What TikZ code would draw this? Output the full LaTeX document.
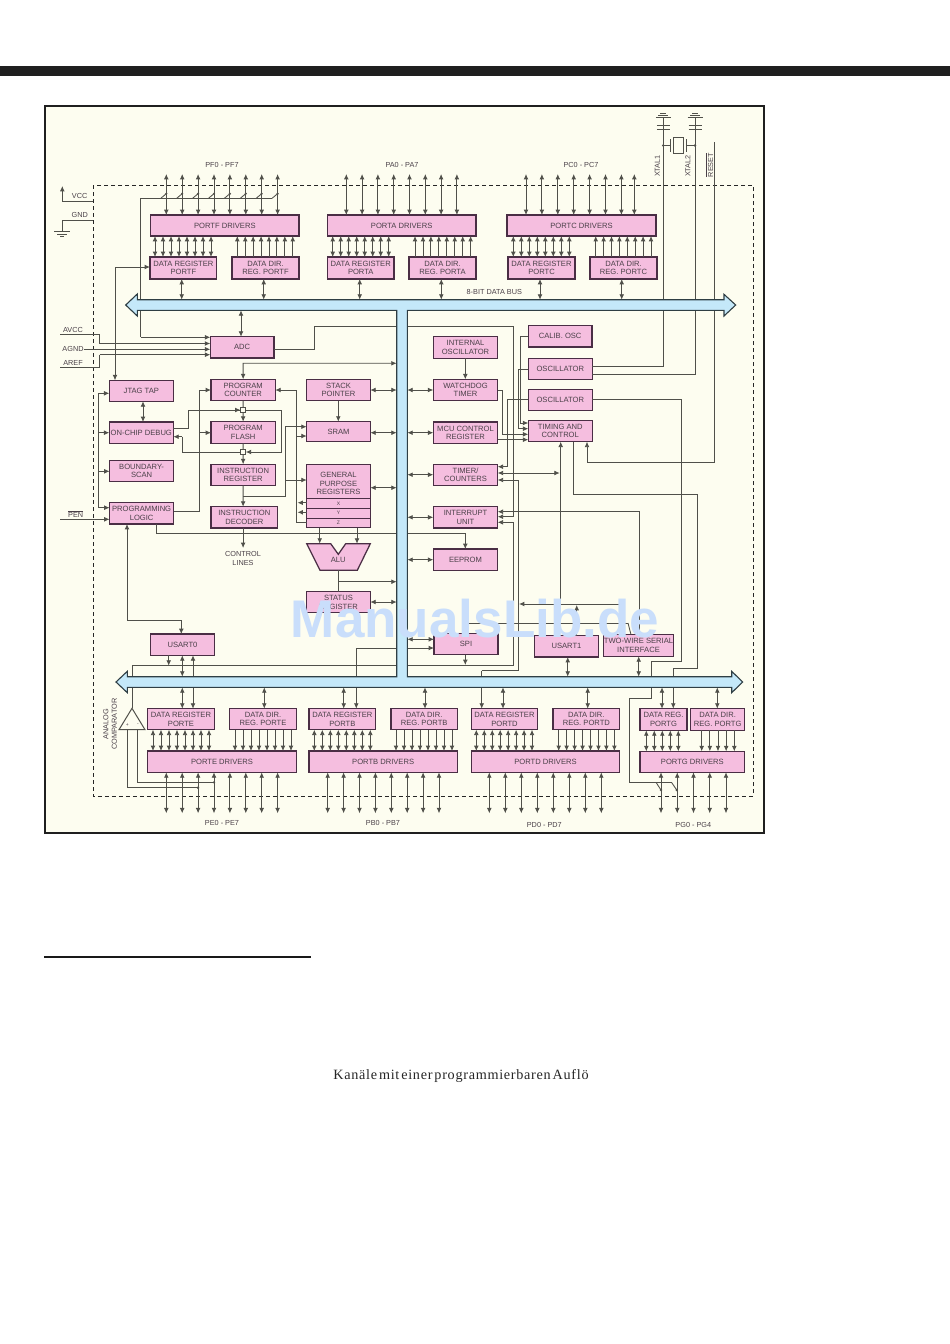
\documentclass[tikz,border=0pt]{standalone}
\usepackage{fontspec}
\setmainfont{Liberation Sans}
\newfontfamily\bodyf[LetterSpace=5,WordSpace=0.45]{Liberation Serif}
\usetikzlibrary{arrows.meta}
\definecolor{paper}{HTML}{FDFDF0}
\definecolor{pinkb}{HTML}{F5BEDF}
\definecolor{edgeb}{HTML}{4A2E45}
\definecolor{wirec}{HTML}{50504A}
\definecolor{txtc}{HTML}{4A4048}
\definecolor{busf}{HTML}{C4E8F9}
\definecolor{busl}{HTML}{2F3E44}
\definecolor{markc}{HTML}{C9DEFB}
\tikzset{
  >={Latex[length=5.4pt,width=4.8pt]},
  wire/.style={draw=wirec,line width=0.85pt},
  ar/.style={wire,->},
  ra/.style={wire,<-},
  bi/.style={wire,<->},
  blk/.style={draw=edgeb,fill=pinkb,line width=1.25pt,inner sep=0pt,outer sep=0pt,align=center,text=txtc,font=\fontsize{7.6}{8.4}\selectfont},
  lab/.style={inner sep=0pt,outer sep=0pt,align=center,text=txtc,font=\fontsize{7.3}{8.5}\selectfont},
  tiny/.style={inner sep=0pt,outer sep=0pt,text=txtc,font=\fontsize{5}{5}\selectfont},
  dot/.style={fill=wirec,draw=none}
}
\newcommand\blkbox[6]{\node[blk,minimum width={(#4-#2)*1pt},minimum height={(#5-#3)*1pt}] (#1) at ({(#2+#4)/2},{(#3+#5)/2}) {#6};}
\newcommand\vwire[4]{\draw[#1] (#2,0 |- #3) -- (#2,0 |- #4);}
\newcommand\hwire[4]{\draw[#1] (#3 |- 0,#2) -- (#4 |- 0,#2);}
\newcommand\pinrow[6]{\foreach \i in {0,...,#4}{\pgfmathsetmacro\xx{#2+#3*\i}\draw[#1] (\xx,0 |- #5) -- (\xx,0 |- #6);}}
\begin{document}
\begin{tikzpicture}[x=1pt,y=-1pt]
\useasboundingbox (0,0) rectangle (950,1344);
\fill[white] (0,0) rectangle (950,1344);
\fill[black!88] (0,66) rectangle (950,76);
\draw[black!88,line width=2pt,fill=paper] (45,106) rectangle (764,832.5);
\draw[black!85,line width=0.6pt,dashed,dash pattern=on 4pt off 3pt] (92.8,185) rectangle (753,796);
% helper levels
\coordinate (tbU) at (0,299.7); \coordinate (tbL) at (0,310.3);
\coordinate (bbU) at (0,676.7); \coordinate (bbL) at (0,687.3);
\coordinate (barL) at (396.7,0); \coordinate (barR) at (407.3,0);
\coordinate (ptop) at (0,174); \coordinate (pbot) at (0,813.3);
% blocks: top ports
\blkbox{pfd}{150.7}{215}{299}{236}{PORTF DRIVERS}
\blkbox{pfr}{150}{257}{216.7}{279}{DATA REGISTER\\PORTF}
\blkbox{pfq}{232}{257}{299}{279}{DATA DIR.\\REG. PORTF}
\blkbox{pad}{327.3}{215}{476}{236}{PORTA DRIVERS}
\blkbox{par}{327.5}{257}{394}{279}{DATA REGISTER\\PORTA}
\blkbox{paq}{409}{257}{476}{279}{DATA DIR.\\REG. PORTA}
\blkbox{pcd}{507}{215}{656}{236}{PORTC DRIVERS}
\blkbox{pcr}{508}{257}{575}{279}{DATA REGISTER\\PORTC}
\blkbox{pcq}{590}{257}{657}{279}{DATA DIR.\\REG. PORTC}
% middle left
\blkbox{adc}{210.3}{336.7}{274}{358}{ADC}
\blkbox{jtag}{109.3}{380.3}{173.3}{401.3}{JTAG TAP}
\blkbox{ocd}{109.3}{422}{173.3}{443.3}{ON-CHIP DEBUG}
\blkbox{bsc}{109.6}{460.3}{173.6}{481.7}{BOUNDARY-\\SCAN}
\blkbox{prl}{109.6}{502.7}{173.6}{524}{PROGRAMMING\\LOGIC}
\blkbox{pctr}{211}{379.3}{275.3}{400.7}{PROGRAM\\COUNTER}
\blkbox{pfl}{211}{421.7}{275.3}{443.3}{PROGRAM\\FLASH}
\blkbox{ireg}{211}{464.3}{275.3}{485.3}{INSTRUCTION\\REGISTER}
\blkbox{idec}{211}{506.7}{277.7}{528}{INSTRUCTION\\DECODER}
\blkbox{stk}{306.7}{379.3}{370.3}{400.7}{STACK\\POINTER}
\blkbox{sram}{306.7}{421.7}{370.3}{441.3}{SRAM}
\blkbox{gpr}{306.7}{464.3}{370.3}{527.7}{}
\draw[edgeb,line width=0.8pt] (gpr.west |- 0,498.3) -- (gpr.east |- 0,498.3);
\draw[edgeb,line width=0.8pt] (gpr.west |- 0,508.3) -- (gpr.east |- 0,508.3);
\draw[edgeb,line width=0.8pt] (gpr.west |- 0,518) -- (gpr.east |- 0,518);
\node[lab,font=\fontsize{7.6}{8.4}\selectfont] (gprt) at (338.5,483.5) {GENERAL\\PURPOSE\\REGISTERS};
\node[tiny] (gx) at (338.5,503.3) {X};
\node[tiny] (gy) at (338.5,513.2) {Y};
\node[tiny] (gz) at (338.5,523) {Z};
\draw[edgeb,fill=pinkb,line width=1.25pt] (306.7,543.7) -- (330.7,543.7) -- (338.3,554.3) -- (345.7,543.7) -- (370.3,543.7) -- (357.3,570.3) -- (320,570.3) -- cycle;
\node[lab,font=\fontsize{7.6}{8.4}\selectfont] (alu) at (338.3,560) {ALU};
\coordinate (alut) at (338.3,570.3);
\blkbox{sreg}{306.7}{591.7}{370.3}{612.7}{STATUS\\REGISTER}
\blkbox{usa0}{150.7}{634}{214.3}{655.3}{USART0}
% middle right
\blkbox{iosc}{433.3}{336.7}{497.7}{358.3}{INTERNAL\\OSCILLATOR}
\blkbox{wdt}{433.3}{379.3}{497.7}{400.7}{WATCHDOG\\TIMER}
\blkbox{mcu}{433.3}{422}{497.7}{443.3}{MCU CONTROL\\REGISTER}
\blkbox{tim}{433.3}{464.3}{497.7}{485.3}{TIMER/\\COUNTERS}
\blkbox{intr}{433.3}{506.7}{497.7}{528}{INTERRUPT\\UNIT}
\blkbox{eep}{433.3}{549}{497.7}{570.3}{EEPROM}
\blkbox{spi}{434}{633.3}{498}{654.7}{SPI}
\blkbox{cal}{528.3}{325.7}{592}{347}{CALIB. OSC}
\blkbox{osa}{528.3}{358.3}{592.3}{379.7}{OSCILLATOR}
\blkbox{osb}{528.3}{389.7}{592.3}{410.7}{OSCILLATOR}
\blkbox{tc}{528.3}{420.3}{592.3}{441.7}{TIMING AND\\CONTROL}
\blkbox{usa1}{534.7}{635.7}{598.3}{657}{USART1}
\blkbox{twi}{603.3}{634.7}{673.7}{656.3}{TWO-WIRE SERIAL\\INTERFACE}
% bottom ports
\blkbox{per}{147.7}{708.7}{214.3}{729.7}{DATA REGISTER\\PORTE}
\blkbox{peq}{229.7}{708.7}{296.3}{729.7}{DATA DIR.\\REG. PORTE}
\blkbox{ped}{147.7}{751}{296.3}{772.3}{PORTE DRIVERS}
\blkbox{pbr}{309}{708.7}{375.7}{729.7}{DATA REGISTER\\PORTB}
\blkbox{pbq}{391}{708.7}{457.3}{729.7}{DATA DIR.\\REG. PORTB}
\blkbox{pbd}{309}{751}{457.3}{772.3}{PORTB DRIVERS}
\blkbox{pdr}{471.3}{708.7}{537.7}{729.7}{DATA REGISTER\\PORTD}
\blkbox{pdq}{553}{708.7}{619.7}{729.7}{DATA DIR.\\REG. PORTD}
\blkbox{pdd}{471.3}{751}{619.7}{772.3}{PORTD DRIVERS}
\blkbox{pgr}{640}{708.7}{687}{730.3}{DATA REG.\\PORTG}
\blkbox{pgq}{690.7}{708.7}{744.7}{730.3}{DATA DIR.\\REG. PORTG}
\blkbox{pgd}{640}{751.3}{744.7}{772.3}{PORTG DRIVERS}
% comparator
\draw[wirec,fill=paper,line width=1pt] (132,708.3) -- (145,729.7) -- (119,729.7) -- cycle;
\node[tiny] (cp) at (127.3,725) {+};
\node[tiny] (cm) at (138,725) {-};
\coordinate (cmpT) at (132,708.3); \coordinate (cmpP) at (127.3,729.7); \coordinate (cmpM) at (137.3,729.7);
% texts
\node[lab] (lpf) at (222,164.5) {PF0 - PF7};
\node[lab] (lpa) at (402,164.5) {PA0 - PA7};
\node[lab] (lpc) at (581,164.5) {PC0 - PC7};
\node[lab] (lpe) at (222,822.5) {PE0 - PE7};
\node[lab] (lpb) at (383,822.5) {PB0 - PB7};
\node[lab] (lpdd) at (544.3,824.5) {PD0 - PD7};
\node[lab] (lpg) at (693.3,824.5) {PG0 - PG4};
\node[lab] (lbus) at (494.3,291.7) {8-BIT DATA BUS};
\node[lab] (lvcc) at (79.7,196.3) {VCC};
\node[lab] (lgnd) at (79.7,215) {GND};
\node[lab] (lavcc) at (73,330) {AVCC};
\node[lab] (lagnd) at (73,349.3) {AGND};
\node[lab] (laref) at (73,363) {AREF};
\node[lab] (lpen) at (75.7,514) {$\overline{\hbox{PEN}}$};
\node[lab] (lctl) at (243,558.5) {CONTROL\\LINES};
\node[lab,rotate=90] (lac) at (110,724) {ANALOG\\COMPARATOR};
\node[lab,rotate=90] (lx1) at (657.3,166) {XTAL1};
\node[lab,rotate=90] (lx2) at (687.7,166) {XTAL2};
\node[lab,rotate=90] (lrs) at (709.5,165) {$\overline{\hbox{RESET}}$};
\node[inner sep=0pt,font=\bodyf\fontsize{14.2}{16}\selectfont,text=black!85] (para) at (461,1076) {Kanäle mit einer programmierbaren Auflö};
\draw[black!90,line width=1.8pt] (44,957) -- (311,957);
% pins and register links, top
\pinrow{bi}{166.3}{15.9}{7}{ptop}{pfd.north}
\pinrow{bi}{346.3}{15.8}{7}{ptop}{pad.north}
\pinrow{bi}{526}{15.9}{6}{ptop}{pcd.north}
\vwire{bi}{634.3}{ptop}{pcd.north}
\pinrow{bi}{155}{8}{7}{pfd.south}{pfr.north}
\pinrow{ar}{237.3}{7.92}{7}{pfq.north}{pfd.south}
\pinrow{bi}{332.7}{8}{7}{pad.south}{par.north}
\pinrow{ar}{415}{7.95}{7}{paq.north}{pad.south}
\pinrow{bi}{513.3}{8}{7}{pcd.south}{pcr.north}
\pinrow{ar}{595.7}{7.9}{7}{pcq.north}{pcd.south}
\vwire{bi}{181.7}{pfr.south}{tbU}
\vwire{bi}{263.7}{pfq.south}{tbU}
\vwire{bi}{359.7}{par.south}{tbU}
\vwire{bi}{441.3}{paq.south}{tbU}
\vwire{bi}{540}{pcr.south}{tbU}
\vwire{bi}{621.7}{pcq.south}{tbU}
% PF switches
\draw[wire] (272,198.3) -- (140.7,198.3) -- (140.7,337.3);
\draw[ar] (140.7,337.3) -- (adc.west |- 0,337.3);
\foreach \i in {0,...,7}{\pgfmathsetmacro\xx{166.3+15.9*\i}\pgfmathsetmacro\xa{\xx-5.5}
  \draw[wire] (\xa,198.3) -- (\xx,193.7); \fill[dot] (\xx,193.7) circle (1.2pt);}
% power
\draw[ar] (92.8,201.5) -- (62.3,201.5) -- (62.3,186);
\draw[wire] (92.8,220.3) -- (62,220.3) -- (62,231);
\draw[wire] (54,231) -- (70,231);
\draw[wire] (57,234) -- (67,234);
\draw[wire] (60,236.5) -- (64,236.5);
% analog inputs
\draw[wire] (60,334) -- (99.7,334) -- (99.7,343.5);
\draw[ar] (99.7,343.5) -- (adc.west |- 0,343.5);
\draw[ar] (lagnd.east |- 0,349.3) -- (adc.west |- 0,349.3);
\draw[wire] (60,367.3) -- (99.7,367.3) -- (99.7,354.7);
\draw[ar] (99.7,354.7) -- (adc.west |- 0,354.7);
\vwire{bi}{241}{tbL}{adc.north}
\draw[ra] (pfr.west |- 0,267) -- (115,267) -- (115,300);
\draw[ar] (115,300) -- (jtag.north -| 115,0);
\draw[wire] (adc.east |- 0,349.5) -- (314,349.5) -- (314,326.7) -- (513.3,326.7) -- (513.3,516.7);
\draw[ar] (513.3,516.7) -- (intr.east |- 0,516.7);
% JTAG group
\draw[wire] (98.3,393.3) -- (98.3,507.7);
\draw[ar] (98.3,393.3) -- (jtag.west |- 0,393.3);
\draw[ar] (98.3,432.7) -- (ocd.west |- 0,432.7);
\draw[ar] (98.3,471.3) -- (bsc.west |- 0,471.3);
\draw[ar] (98.3,507.7) -- (prl.west |- 0,507.7);
\draw[ar] (60,519.3) -- (prl.west |- 0,519.3);
\vwire{bi}{143}{jtag.south}{ocd.north}
% program path
\draw[bi] (pctr.north) -- (243.1,363.3) -- (barL |- 0,363.3);
\node[draw=wirec,fill=paper,line width=0.7pt,minimum size=4.6pt,inner sep=0pt] (muxa) at (243.1,410) {};
\node[draw=wirec,fill=paper,line width=0.7pt,minimum size=4.6pt,inner sep=0pt] (muxb) at (243.1,452) {};
\draw[wire] (pctr.south) -- (muxa.north);
\draw[ar] (muxa.south) -- (pfl.north);
\draw[wire] (pfl.south) -- (muxb.north);
\draw[ar] (muxb.south) -- (ireg.north);
\draw[wire] (ocd.east |- 0,428.3) -- (188,428.3) -- (188,410) -- (muxa.west);
\draw[ar] (190,410) -- (muxa.west);
\draw[wire] (muxa.east) -- (281.7,410) -- (281.7,452);
\draw[ar] (281.7,452) -- (muxb.east);
\draw[wire] (muxb.west) -- (182.3,452) -- (182.3,436.7);
\draw[ar] (182.3,436.7) -- (ocd.east |- 0,436.7);
\draw[wire] (prl.east |- 0,511) -- (199,511) -- (199,390);
\draw[ar] (199,390) -- (pctr.west |- 0,390);
\draw[ar] (199,432.7) -- (pfl.west |- 0,432.7);
\draw[ar] (ireg.south) -- (243.1,506.7);
\draw[wire] (243.1,496) -- (285,496) -- (285,426.7);
\draw[ar] (285,426.7) -- (sram.west |- 0,426.7);
\draw[ar] (285,480) -- (gpr.west |- 0,480);
\draw[ra] (pctr.east |- 0,390) -- (296.3,390) -- (296.3,522.7) -- (gpr.west |- 0,522.7);
\draw[ar] (296.3,436) -- (sram.west |- 0,436);
\draw[ar] (gpr.west |- 0,502.7) -- (297.5,502.7);
\draw[ar] (gpr.west |- 0,512.3) -- (297.5,512.3);
\draw[ar] (243.1,528) -- (243.1,548);
\vwire{ar}{338.3}{stk.south}{sram.north}
\vwire{ar}{319.7}{gpr.south}{0,543.7}
\vwire{ar}{357}{gpr.south}{0,543.7}
\draw[wire] (alut) -- (sreg.north -| alut);
\draw[ar] (338.3,581.7) -- (barL |- 0,581.7);
% bus links around the bar
\hwire{bi}{390}{stk.east}{barL}
\hwire{bi}{432.7}{sram.east}{barL}
\hwire{bi}{487.7}{gpr.east}{barL}
\hwire{bi}{602}{sreg.east}{barL}
\hwire{bi}{390}{barR}{wdt.west}
\hwire{bi}{432.7}{barR}{mcu.west}
\hwire{bi}{474.7}{barR}{tim.west}
\hwire{bi}{517.3}{barR}{intr.west}
\hwire{bi}{559.7}{barR}{eep.west}
\hwire{bi}{639.3}{barR}{spi.west}
\draw[ar] (356.3,700) -- (356.3,648) -- (spi.west |- 0,648);
\draw[ra] (pbr.north -| 356.3,0) -- (356.3,700);
\vwire{ar}{465.3}{iosc.south}{wdt.north}
% programming logic links
\draw[wire] (prl.south -| 156.3,0) -- (156.3,533.3) -- (465.3,533.3);
\draw[ar] (465.3,533.3) -- (eep.north -| 465.3,0);
\draw[bi] (prl.south -| 127,0) -- (127,620.7) -- (181.3,620.7) -- (usa0.north -| 181.3,0);
% right-hand wiring
\draw[wire] (cal.west |- 0,336.4) -- (520,336.4) -- (520,423);
\draw[ar] (520,423) -- (tc.west |- 0,423);
\draw[wire] (osa.west |- 0,369) -- (518.3,369) -- (518.3,428.7);
\draw[ar] (518.3,428.7) -- (tc.west |- 0,428.7);
\draw[wire] (wdt.east |- 0,390) -- (502.3,390) -- (502.3,434.3);
\draw[ar] (502.3,434.3) -- (tc.west |- 0,434.3);
\draw[ar] (mcu.east |- 0,439.7) -- (tc.west |- 0,439.7);
\draw[wire] (osb.west |- 0,399.3) -- (507.7,399.3) -- (507.7,466.7);
\draw[ar] (507.7,466.7) -- (tim.east |- 0,466.7);
\draw[bi] (tim.east |- 0,473) -- (559.7,473);
\draw[ra] (tc.south -| 560.7,0) -- (560.7,604);
\draw[ra] (tim.east |- 0,480) -- (518.7,480) -- (518.7,670.7) -- (481.7,670.7);
\draw[ar] (481.7,670.7) -- (pdr.north -| 481.7,0);
\draw[ra] (intr.east |- 0,511.7) -- (639.3,511.7) -- (639.3,634.7);
\draw[ra] (intr.east |- 0,522.3) -- (513.3,522.3) -- (513.3,665.7) -- (132,665.7) -- (cmpT);
\draw[ar] (621.7,634.7) -- (621.7,604) -- (519,604);
\draw[ar] (usa1.north -| 576.7,0) -- (576.7,605);
\draw[ar] (628,623) -- (465.3,623) -- (spi.north -| 465.3,0);
\draw[wire] (628,623) -- (631,634.7);
\vwire{ar}{465.3}{spi.south}{0,665}
\draw[wire] (573.3,441.7) -- (573.3,494) -- (697.3,494) -- (697.3,668.3) -- (673.3,668.3);
\draw[ar] (673.3,668.3) -- (pgr.north -| 673.3,0);
\draw[ra] (tc.south -| 587,0) -- (587,462.3) -- (714.7,462.3) -- (714.7,141.7);
\draw[wire] (osa.east |- 0,366) -- (663.3,366) -- (663.3,118);
\draw[wire] (osa.east |- 0,374) -- (695,374) -- (695,118);
\draw[wire] (osb.east |- 0,399.3) -- (681.7,399.3) -- (681.7,661.7) -- (651,661.7) -- (651,698.3) -- (629.3,698.3) -- (629.3,782.3) -- (671.5,782.3);
% crystal
\foreach \cx/\cy in {663.3/0,695/0}{
  \draw[wirec,line width=1.1pt] (\cx-6.5,125.7) -- (\cx+6.5,125.7);
  \draw[wirec,line width=1.1pt] (\cx-6.5,129.3) -- (\cx+6.5,129.3);
  \draw[wirec,line width=0.9pt] (\cx-7.5,117.6) -- (\cx+7.5,117.6);
  \draw[wirec,line width=0.9pt] (\cx-5,115.2) -- (\cx+5,115.2);
  \draw[wirec,line width=0.9pt] (\cx-3,113) -- (\cx+3,113);
  \fill[dot] (\cx,145.5) circle (1.4pt);
}
\draw[wirec,line width=0.8pt,fill=paper] (673.3,137.5) rectangle (683.5,153.5);
\draw[wirec,line width=0.9pt] (670,139) -- (670,152);
\draw[wirec,line width=0.9pt] (686.7,139) -- (686.7,152);
\draw[wire] (663.3,145.5) -- (670,145.5);
\draw[wire] (686.7,145.5) -- (695,145.5);
% bottom ports links
\pinrow{bi}{153}{8}{7}{per.south}{ped.north}
\pinrow{ar}{235}{8}{7}{peq.south}{ped.north}
\pinrow{bi}{314.3}{8}{7}{pbr.south}{pbd.north}
\pinrow{ar}{396}{8}{7}{pbq.south}{pbd.north}
\pinrow{bi}{476.3}{7.96}{7}{pdr.south}{pdd.north}
\pinrow{ar}{558.7}{7.95}{7}{pdq.south}{pdd.north}
\pinrow{bi}{646.3}{8}{4}{pgr.south}{pgd.north}
\pinrow{ar}{701.7}{8.15}{4}{pgq.south}{pgd.north}
\pinrow{bi}{166.3}{15.9}{7}{ped.south}{pbot}
\pinrow{bi}{327.7}{15.9}{7}{pbd.south}{pbot}
\pinrow{bi}{489.3}{16}{7}{pdd.south}{pbot}
\pinrow{bi}{661}{16.25}{4}{pgd.south}{pbot}
\vwire{bi}{182.3}{bbL}{per.north}
\vwire{bi}{264.3}{bbL}{peq.north}
\vwire{bi}{343.7}{bbL}{pbr.north}
\vwire{bi}{425}{bbL}{pbq.north}
\vwire{bi}{503}{bbL}{pdr.north}
\vwire{bi}{587.7}{bbL}{pdq.north}
\vwire{bi}{662}{bbL}{pgr.north}
\vwire{bi}{717.3}{bbL}{pgq.north}
\vwire{bi}{567.7}{usa1.south}{bbU}
\vwire{bi}{638.7}{twi.south}{bbU}
\vwire{ar}{168.7}{usa0.south}{0,665.7}
\vwire{bi}{182.3}{usa0.south}{bbU}
\vwire{bi}{193}{usa0.south}{per.north}
% comparator inputs
\draw[wire] (cmpP) -- (127.3,787.7) -- (198,787.7);
\draw[wire] (cmpM) -- (137.3,782.3) -- (214,782.3);
\fill[dot] (198,787.7) circle (1.3pt);
\fill[dot] (214,782.3) circle (1.3pt);
% PG switches
\draw[wire] (656,782.3) -- (661,790); \fill[dot] (661,790) circle (1.3pt);
\draw[wire] (671.5,782.3) -- (676.7,790); \fill[dot] (676.7,790) circle (1.3pt);
% data bus
\draw[busl,fill=busf,line width=1.1pt,line join=miter]
 (125.7,305) -- (137.3,294) -- (137.3,299.7) -- (724,299.7) -- (724,294.3) -- (735.7,305) -- (724,316) -- (724,310.3)
 -- (407.3,310.3) -- (407.3,676.7) -- (731.7,676.7) -- (731.7,671.3) -- (742.7,682) -- (731.7,692.7) -- (731.7,687.3)
 -- (127.3,687.3) -- (127.3,692.7) -- (116,682) -- (127.3,671.3) -- (127.3,676.7) -- (396.7,676.7) -- (396.7,310.3)
 -- (137.3,310.3) -- (137.3,316) -- cycle;
% watermark
\node[inner sep=0pt,text=markc,font=\fontsize{53}{55}\selectfont\bfseries] (wm) at (475,619) {ManualsLib.de};
\end{tikzpicture}
\end{document}
